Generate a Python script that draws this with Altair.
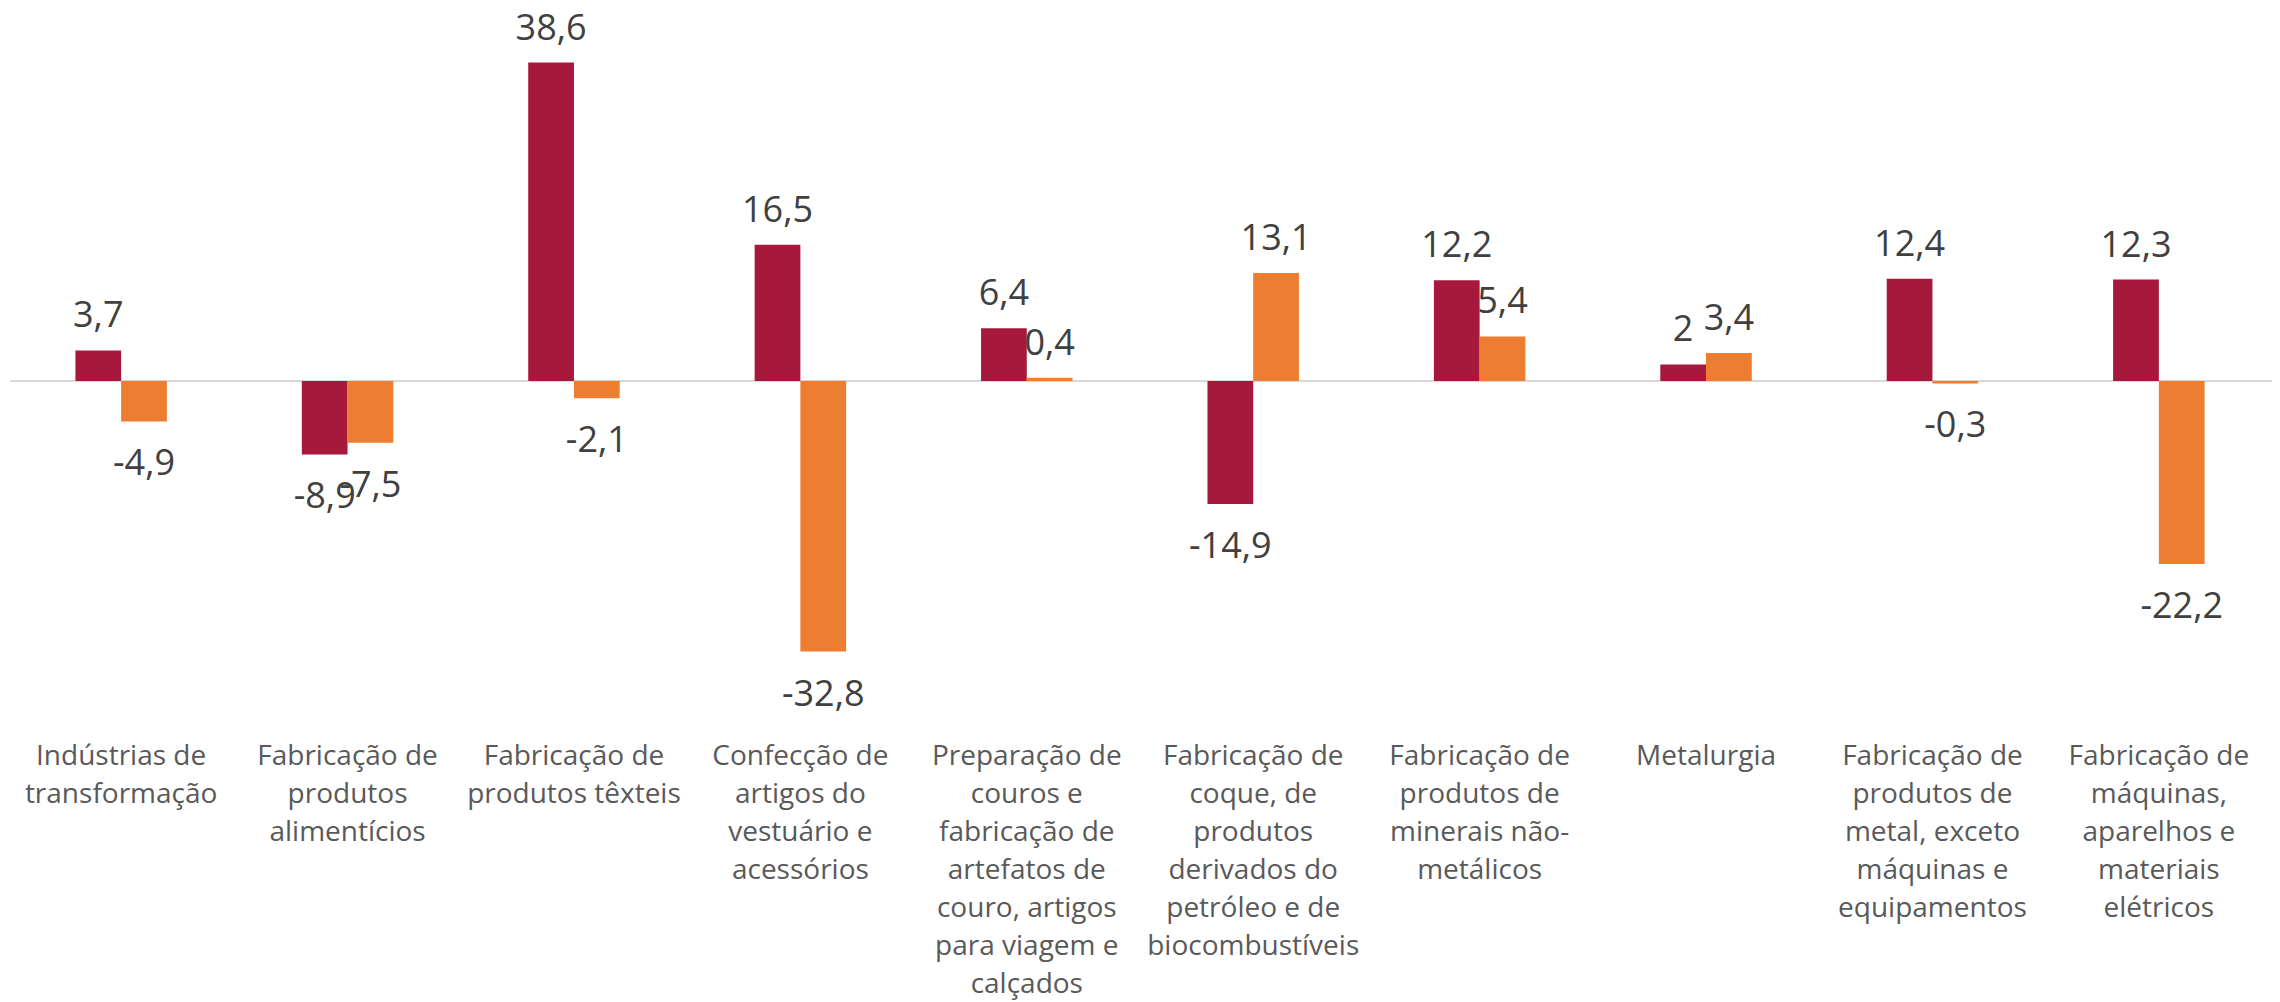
import altair as alt
import pandas as pd

# Category labels ("|" marks a line break in the axis label)
CATEGORIES = [
    "Indústrias de|transformação",
    "Fabricação de|produtos|alimentícios",
    "Fabricação de|produtos têxteis",
    "Confecção de|artigos do|vestuário e|acessórios",
    "Preparação de|couros e|fabricação de|artefatos de|couro, artigos|para viagem e|calçados",
    "Fabricação de|coque, de|produtos|derivados do|petróleo e de|biocombustíveis",
    "Fabricação de|produtos de|minerais não-|metálicos",
    "Metalurgia",
    "Fabricação de|produtos de|metal, exceto|máquinas e|equipamentos",
    "Fabricação de|máquinas,|aparelhos e|materiais|elétricos",
]

SERIES = ["Série 1", "Série 2"]
SERIES_1 = [3.7, -8.9, 38.6, 16.5, 6.4, -14.9, 12.2, 2, 12.4, 12.3]
SERIES_2 = [-4.9, -7.5, -2.1, -32.8, 0.4, 13.1, 5.4, 3.4, -0.3, -22.2]
COLORS = ["#A6193C", "#ED7D31"]

rows = []
for cat, v1, v2 in zip(CATEGORIES, SERIES_1, SERIES_2):
    for s, v in zip(SERIES, (v1, v2)):
        rows.append({"category": cat, "series": s, "value": v,
                     "label": f"{v:g}".replace(".", ",")})
df = pd.DataFrame(rows)

Y_DOMAIN = [-43.52, 46.18]

x_enc = alt.X(
    "category:N",
    sort=CATEGORIES,
    scale=alt.Scale(paddingInner=0.596, paddingOuter=0.333),
    axis=alt.Axis(
        title=None, domain=False, ticks=False, grid=False, labelAngle=0,
        labelExpr="split(datum.value, '|')",
        labelFont="Open Sans", labelFontSize=28, labelColor="#595959",
        labelLineHeight=38, labelBaseline="alphabetic", labelPadding=24,
        labelLimit=0, labelOverlap=False, labelBound=False, labelFlush=False,
    ),
)
xo_enc = alt.XOffset("series:N", sort=SERIES,
                     scale=alt.Scale(paddingInner=0, paddingOuter=0))
y_enc = alt.Y("value:Q",
              scale=alt.Scale(domain=Y_DOMAIN, nice=False, zero=False),
              axis=None)
color_enc = alt.Color("series:N", scale=alt.Scale(domain=SERIES, range=COLORS),
                      legend=None)

zero_line = alt.Chart(pd.DataFrame({"zero": [0]})).mark_rule(
    color="#D9D9D9", strokeWidth=2
).encode(
    y=alt.Y("zero:Q", scale=alt.Scale(domain=Y_DOMAIN, nice=False, zero=False), axis=None),
    x=alt.value(10), x2=alt.value(2272),
)

bars = alt.Chart(df).mark_bar().encode(
    x=x_enc, xOffset=xo_enc, y=y_enc, color=color_enc
)

text_style = dict(font="Open Sans", fontSize=36, color="#404040",
                  baseline="alphabetic", align="center")

pos_labels = alt.Chart(df).transform_filter("datum.value >= 0").mark_text(
    dy=-23, **text_style
).encode(x=x_enc, xOffset=xo_enc, y=y_enc, text="label:N")

neg_labels = alt.Chart(df).transform_filter("datum.value < 0").mark_text(
    dy=54, **text_style
).encode(x=x_enc, xOffset=xo_enc, y=y_enc, text="label:N")

chart = alt.layer(zero_line, bars, pos_labels, neg_labels).properties(
    width=2280, height=740,
    autosize=alt.AutoSizeParams(type="none"),
    padding={"left": 0, "top": 0, "right": 0, "bottom": 262},
    background="white",
).configure_view(stroke=None)

chart.save("out.html", embed_options={"renderer": "svg", "actions": False})
